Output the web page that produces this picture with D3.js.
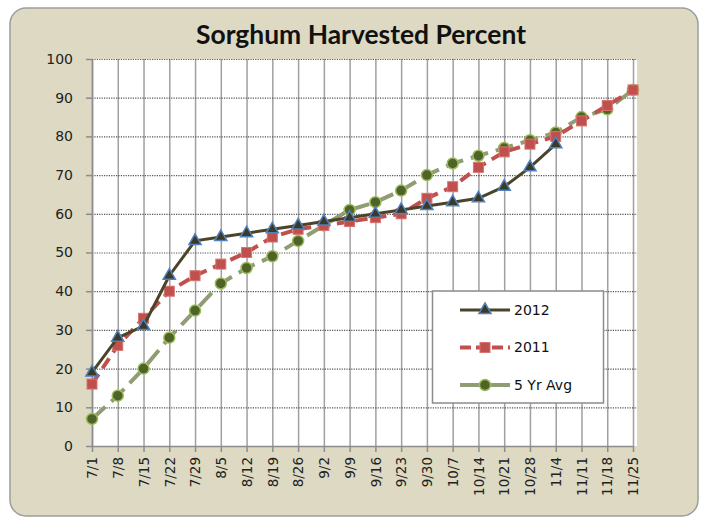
<!DOCTYPE html>
<html>
<head>
<meta charset="utf-8">
<script src="https://cdn.jsdelivr.net/npm/d3@7"></script>
<style>
  body { margin: 0; background: #fff; }
  svg { display: block; }
</style>
</head>
<body>
<div id="chart"></div>
<script>
const width = 702;
const height = 519;
const margin = { top: 59, right: 65, bottom: 73, left: 92 };

// weeks on the x axis
const weeks = ["7/1", "7/8", "7/15", "7/22", "7/29", "8/5", "8/12", "8/19", "8/26", "9/2",
  "9/9", "9/16", "9/23", "9/30", "10/7", "10/14", "10/21", "10/28", "11/4", "11/11",
  "11/18", "11/25"];

// percent harvested
const pct2012 = [19, 28, 31, 44, 53, 54, 55, 56, 57, 58, 59, 60, 61, 62, 63, 64, 67, 72, 78];
const pct2011 = [16, 26, 33, 40, 44, 47, 50, 54, 56, 57, 58, 59, 60, 64, 67, 72, 76, 78, 80, 84, 88, 92];
const pct5yr = [7, 13, 20, 28, 35, 42, 46, 49, 53, 57, 61, 63, 66, 70, 73, 75, 77, 79, 81, 85, 87, 92];

const yTicks = [0, 10, 20, 30, 40, 50, 60, 70, 80, 90, 100];

const series = [
  { name: "2012", values: pct2012, color: "#4a452a", width: 3, dash: null, marker: "triangle" },
  { name: "2011", values: pct2011, color: "#c0504d", width: 4, dash: "12,7", marker: "square" },
  { name: "5 Yr Avg", values: pct5yr, color: "#8f9c74", width: 4, dash: "18,8", marker: "circle" },
];

const svg = d3.select("#chart")
  .append("svg")
  .attr("width", width)
  .attr("height", height);

// chart frame
svg.append("rect")
  .attr("x", 10).attr("y", 8)
  .attr("width", 688).attr("height", 508)
  .attr("rx", 16)
  .attr("fill", "#ddd9c3")
  .attr("stroke", "#9d9d9d")
  .attr("stroke-width", 1.5);

svg.append("text")
  .attr("x", 361).attr("y", 44)
  .attr("text-anchor", "middle")
  .attr("font-family", "Lato, 'Open Sans', sans-serif")
  .attr("font-weight", "bold")
  .attr("font-size", 26)
  .attr("textLength", 330)
  .attr("lengthAdjust", "spacingAndGlyphs")
  .attr("fill", "#111")
  .text("Sorghum Harvested Percent");

const x = d3.scalePoint()
  .domain(weeks)
  .range([margin.left, width - margin.right - 4]);

const y = d3.scaleLinear()
  .domain([0, 100])
  .range([height - margin.bottom, margin.top]);

// plot area
svg.append("rect")
  .attr("x", margin.left).attr("y", y(100))
  .attr("width", width - margin.right - margin.left).attr("height", y(0) - y(100))
  .attr("fill", "#fff");

// vertical gridlines
svg.append("g")
  .attr("transform", `translate(0, ${y(0)})`)
  .call(d3.axisBottom(x).tickSize(-(y(0) - y(100))).tickFormat(""))
  .call(g => g.select(".domain").remove())
  .call(g => g.selectAll(".tick line").attr("stroke", "#a0a0a0").attr("stroke-width", 1.5));

// horizontal dotted gridlines
svg.append("g")
  .attr("transform", `translate(${margin.left}, 0)`)
  .call(d3.axisLeft(y).tickValues(yTicks.slice(1)).tickSize(-(width - margin.right - margin.left)).tickFormat(""))
  .call(g => g.select(".domain").remove())
  .call(g => g.selectAll(".tick line")
    .attr("stroke", "#555").attr("stroke-width", 1.2).attr("stroke-dasharray", "1.2,1.2"));

// y axis
svg.append("g")
  .attr("transform", `translate(${margin.left}, 0)`)
  .call(d3.axisLeft(y).tickValues(yTicks).tickSize(6).tickPadding(13).tickSizeOuter(0))
  .call(g => g.select(".domain").attr("stroke", "#8c8c8c").attr("stroke-width", 1.5))
  .call(g => g.selectAll(".tick line").attr("stroke", "#8c8c8c").attr("stroke-width", 1.5))
  .call(g => g.selectAll(".tick text")
    .attr("font-family", "'DejaVu Sans', Verdana, sans-serif")
    .attr("font-size", 14)
    .attr("fill", "#222"));

// x axis
svg.append("g")
  .attr("transform", `translate(0, ${y(0)})`)
  .call(d3.axisBottom(x).tickSize(6).tickSizeOuter(0))
  .call(g => g.select(".domain").attr("stroke", "#8c8c8c").attr("stroke-width", 1.5))
  .call(g => g.selectAll(".tick line").attr("stroke", "#8c8c8c").attr("stroke-width", 1.5))
  .call(g => g.selectAll(".tick text")
    .attr("font-family", "'DejaVu Sans', Verdana, sans-serif")
    .attr("font-size", 13.5)
    .attr("fill", "#222")
    .attr("transform", "rotate(-90)")
    .attr("text-anchor", "end")
    .attr("x", -11)
    .attr("y", 0)
    .attr("dy", "0.35em"));

const line = d3.line()
  .x((d, i) => x(weeks[i]))
  .y(d => y(d));

function drawMarker(g, type, cx, cy) {
  if (type === "triangle") {
    g.append("path")
      .attr("d", d3.symbol(d3.symbolTriangle, 64)())
      .attr("transform", `translate(${cx}, ${cy})`)
      .attr("fill", "#3b3a28")
      .attr("stroke", "#4f81bd")
      .attr("stroke-width", 1.5);
  } else if (type === "square") {
    g.append("rect")
      .attr("x", cx - 5).attr("y", cy - 5)
      .attr("width", 10).attr("height", 10)
      .attr("fill", "#c0504d")
      .attr("stroke", "#d9736f")
      .attr("stroke-width", 1);
  } else {
    g.append("circle")
      .attr("cx", cx).attr("cy", cy)
      .attr("r", 5.5)
      .attr("fill", "#4f6228")
      .attr("stroke", "#9bbb59")
      .attr("stroke-width", 1.5);
  }
}

// draw 5 Yr Avg first, 2012 on top
const drawOrder = [series[2], series[1], series[0]];
drawOrder.forEach(s => {
  const g = svg.append("g");
  g.append("path")
    .datum(s.values)
    .attr("d", line)
    .attr("fill", "none")
    .attr("stroke", s.color)
    .attr("stroke-width", s.width)
    .attr("stroke-dasharray", s.dash);
  s.values.forEach((v, i) => drawMarker(g, s.marker, x(weeks[i]), y(v)));
});

// legend
const legend = svg.append("g");
legend.append("rect")
  .attr("x", 432.5).attr("y", 291)
  .attr("width", 171).attr("height", 112)
  .attr("fill", "#fff")
  .attr("stroke", "#8c8c8c")
  .attr("stroke-width", 1.5);

series.forEach((s, i) => {
  const ly = 310 + i * 37.5;
  legend.append("line")
    .attr("x1", 460).attr("x2", 510)
    .attr("y1", ly).attr("y2", ly)
    .attr("stroke", s.color)
    .attr("stroke-width", s.width)
    .attr("stroke-dasharray", i === 1 ? "11,5" : null);
  drawMarker(legend, s.marker, 485, ly);
  legend.append("text")
    .attr("x", 514).attr("y", ly)
    .attr("dy", "0.35em")
    .attr("font-family", "'DejaVu Sans', Verdana, sans-serif")
    .attr("font-size", 14)
    .attr("fill", "#111")
    .text(s.name);
});
</script>
</body>
</html>
